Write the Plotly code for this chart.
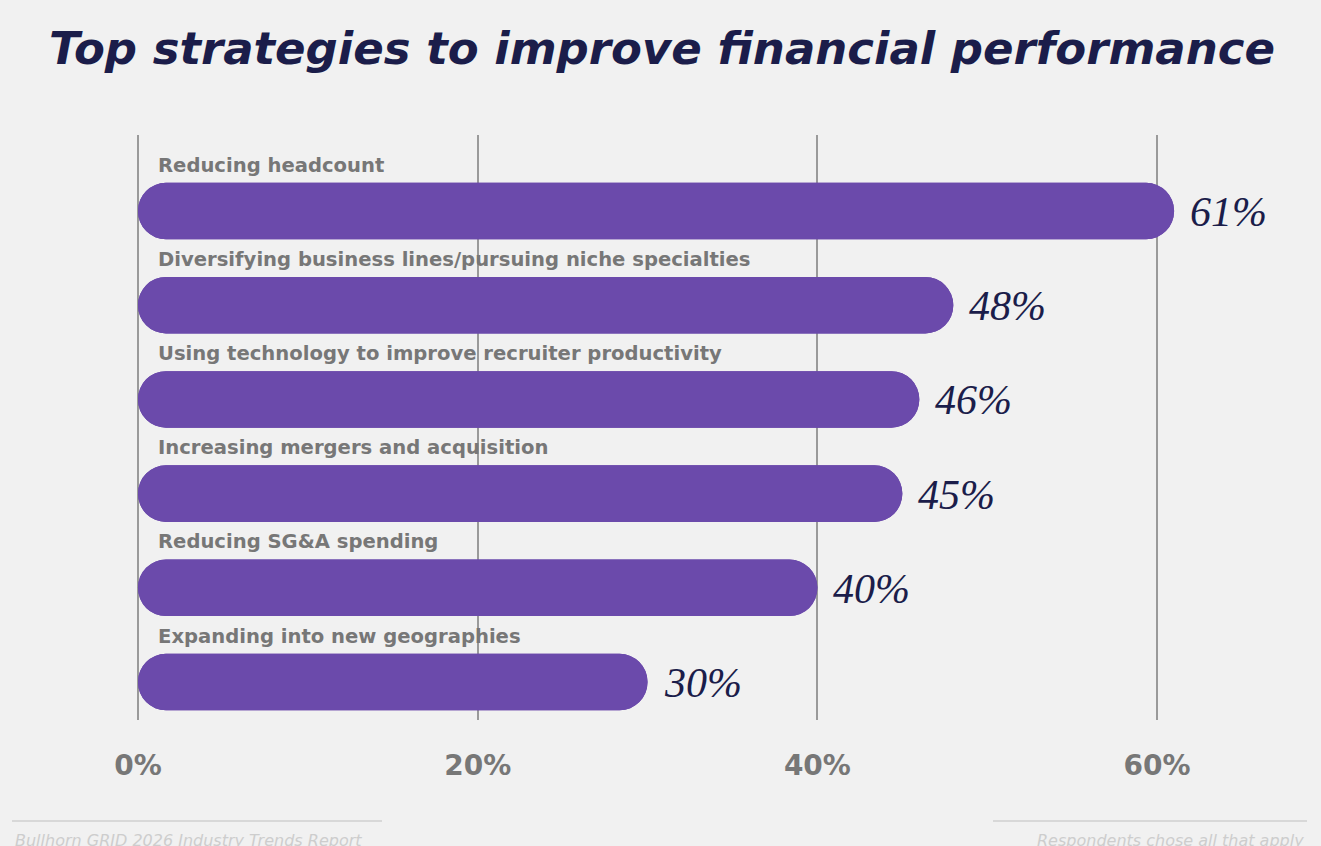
import plotly.graph_objects as go

categories = [
    "Reducing headcount",
    "Diversifying business lines/pursuing niche specialties",
    "Using technology to improve recruiter productivity",
    "Increasing mergers and acquisition",
    "Reducing SG&A spending",
    "Expanding into new geographies",
]
values = [61, 48, 46, 45, 40, 30]
tick_vals = [0, 20, 40, 60]
tick_text = ["0%", "20%", "40%", "60%"]

title_text = "Top strategies to improve financial performance"
footer_left = "Bullhorn GRID 2026 Industry Trends Report"
footer_right = "Respondents chose all that apply"

BG = "#f1f1f1"
BAR = "#6b4aab"
NAVY = "#1b1d4a"
GRAY = "#777777"

W, H = 1321, 846
ML, MR, MT, MB = 104, 28, 135, 126
PW, PH = W - ML - MR, H - MT - MB


def px(xp):
    return (xp - ML) / PW


def py(yp):
    return (H - MB - yp) / PH


fig = go.Figure()
# right-rounded bar (base at 0)
fig.add_trace(go.Bar(
    y=categories, x=values, base=0, orientation="h",
    marker=dict(color=BAR, cornerradius="50%", line=dict(width=0)),
    width=0.6, hoverinfo="skip", showlegend=False,
))
# left-rounded bar (base at value, extends back to 0)
fig.add_trace(go.Bar(
    y=categories, x=[-v for v in values], base=values, orientation="h",
    marker=dict(color=BAR, cornerradius="50%", line=dict(width=0)),
    width=0.6, hoverinfo="skip", showlegend=False,
))

annotations = []
for c, v in zip(categories, values):
    annotations.append(dict(
        x=0, y=c, xref="x", yref="y", text=c, showarrow=False,
        xanchor="left", yanchor="middle", xshift=18, yshift=46,
        font=dict(family="DejaVu Sans", size=19.6, color=GRAY, weight=700),
    ))
    annotations.append(dict(
        x=v, y=c, xref="x", yref="y", text=f"{v}%", showarrow=False,
        xanchor="left", yanchor="middle", xshift=14, yshift=-1,
        font=dict(family="Liberation Serif", size=42, color=NAVY, style="italic"),
    ))

annotations.append(dict(
    x=px(662), y=py(48), xref="paper", yref="paper", text=title_text,
    showarrow=False, xanchor="center", yanchor="middle",
    font=dict(family="DejaVu Sans", size=45, color=NAVY, weight=700, style="italic"),
))
annotations.append(dict(
    x=px(13), y=py(840), xref="paper", yref="paper", text=footer_left,
    showarrow=False, xanchor="left", yanchor="middle",
    font=dict(family="DejaVu Sans", size=16, color="#cdcdcd", style="italic"),
))
annotations.append(dict(
    x=px(1306), y=py(840), xref="paper", yref="paper", text=footer_right,
    showarrow=False, xanchor="right", yanchor="middle",
    font=dict(family="DejaVu Sans", size=16, color="#cdcdcd", style="italic"),
))

fig.update_layout(
    width=W, height=H,
    paper_bgcolor=BG, plot_bgcolor=BG,
    margin=dict(l=ML, r=MR, t=MT, b=MB),
    barmode="overlay",
    annotations=annotations,
    xaxis=dict(
        range=[-2, 68], tickvals=tick_vals, ticktext=tick_text,
        showgrid=True, gridcolor="#9a9a9a", gridwidth=1.5,
        zeroline=False, showline=False,
        ticks="", ticklabelstandoff=26,
        tickfont=dict(family="DejaVu Sans", size=28, color=GRAY, weight=700),
    ),
    yaxis=dict(
        categoryorder="array", categoryarray=categories,
        range=[5.403, -0.807], showticklabels=False, showgrid=False,
        zeroline=False, showline=False, ticks="",
    ),
    shapes=[
        dict(type="line", xref="paper", yref="paper", x0=px(12), x1=px(382),
             y0=py(821), y1=py(821), line=dict(color="#cfcfcf", width=1.5)),
        dict(type="line", xref="paper", yref="paper", x0=px(993), x1=px(1307),
             y0=py(821), y1=py(821), line=dict(color="#cfcfcf", width=1.5)),
    ],
)

fig.write_html("out.html")
